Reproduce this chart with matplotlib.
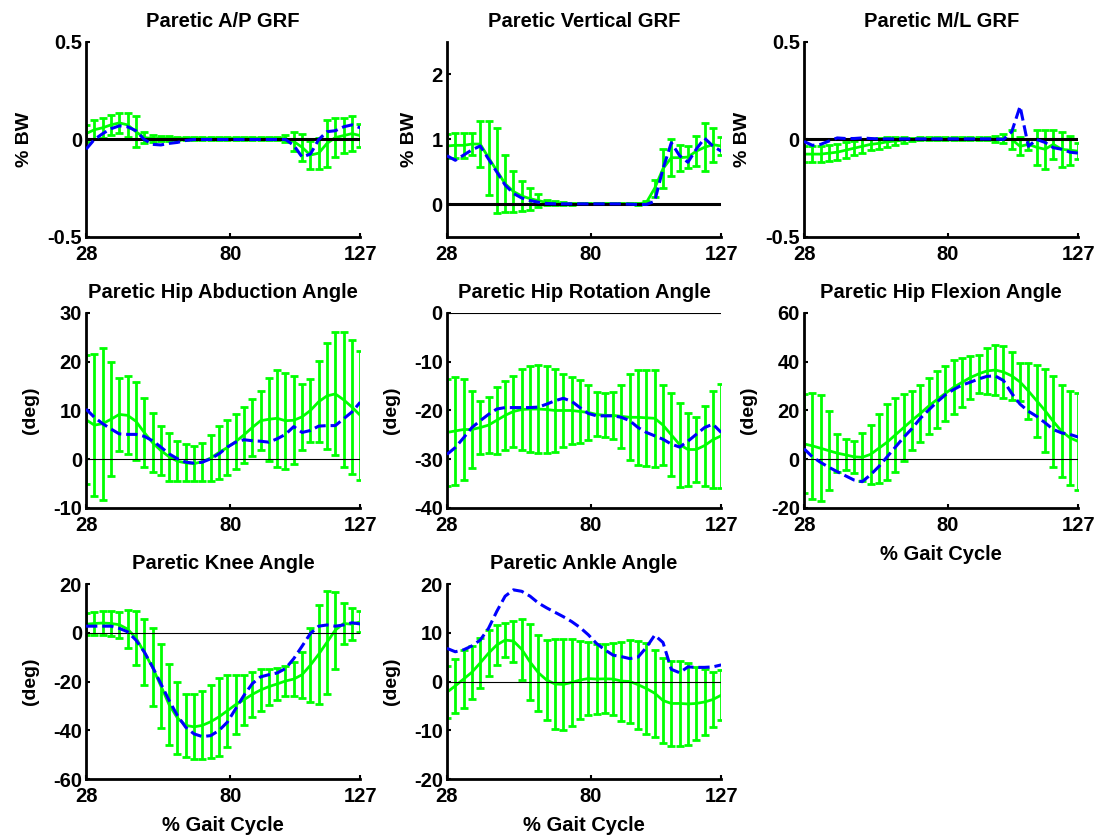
import numpy as np
import matplotlib
matplotlib.use('Agg')
import matplotlib.pyplot as plt

# % gait cycle sample points (every 3 %)
gait = np.arange(28, 128, 3)

# Paretic A/P GRF
ap_mean = [0.03, 0.05, 0.06, 0.075, 0.085, 0.075, 0.04, 0.01,
           0.005, 0.005, 0.005, 0.005, 0.005, 0.005, 0.005, 0.005, 0.005, 0.005, 0.005,
           0.005, 0.005, 0.005, 0.005, 0.005, 0.005,
           -0.01, -0.04, -0.08, -0.07, -0.02, 0.01, 0.02, 0.03, 0.02]
ap_sd = [0.045, 0.05, 0.05, 0.05, 0.05, 0.06, 0.08, 0.03, 0.02, 0.015, 0.012, 0.01,
         0.006, 0.006, 0.006, 0.006, 0.006, 0.006, 0.006, 0.006, 0.006, 0.006, 0.006,
         0.008, 0.02, 0.05, 0.07, 0.07, 0.08, 0.12, 0.1, 0.09, 0.09, 0.06]
ap_blue = [-0.05, 0.0, 0.03, 0.055, 0.07, 0.065, 0.045, 0.0, -0.025, -0.028, -0.02, -0.015, -0.005, 0.0,
           0.0, 0.0, 0.0, 0.0, 0.0, 0.0, 0.0, 0.0, 0.0, 0.0, 0.0,
           -0.03, -0.09, -0.075, 0.0, 0.04, 0.045, 0.065, 0.075, 0.06]

# Paretic vertical GRF
vt_mean = [0.9, 0.91, 0.91, 0.93, 0.93, 0.72, 0.52, 0.32, 0.2, 0.13, 0.09, 0.06, 0.03,
           0.02, 0.015, 0.01, 0.01, 0.01, 0.01, 0.01, 0.01, 0.01, 0.01, 0.01,
           0.03, 0.25, 0.55, 0.72, 0.72, 0.73, 0.82, 0.88, 0.92, 0.9]
vt_sd = [0.19, 0.19, 0.19, 0.17, 0.35, 0.57, 0.65, 0.44, 0.32, 0.23, 0.17, 0.1, 0.04,
         0.03, 0.02, 0.015, 0.01, 0.01, 0.01, 0.01, 0.01, 0.01, 0.01, 0.015,
         0.03, 0.13, 0.3, 0.28, 0.2, 0.17, 0.23, 0.37, 0.26, 0.14]
vt_blue = [0.75, 0.68, 0.76, 0.84, 0.9, 0.7, 0.5, 0.3, 0.17, 0.1, 0.06, 0.035, 0.015,
           0.01, 0.01, 0.01, 0.01, 0.01, 0.01, 0.01, 0.01, 0.01, 0.005, 0.0, 0.0,
           0.05, 0.55, 0.95, 0.75, 0.65, 0.85, 1.02, 0.9, 0.82]

# Paretic M/L GRF
ml_mean = [-0.075, -0.075, -0.075, -0.07, -0.065, -0.055, -0.045, -0.035, -0.025, -0.02, -0.012, -0.008, -0.003,
           0.002, 0.003, 0.003, 0.003, 0.003, 0.003, 0.003, 0.003, 0.003, 0.003, 0.003,
           0.005, 0.0, -0.035, -0.025, -0.04, -0.05, -0.025, -0.05, -0.055, -0.06]
ml_sd = [0.04, 0.04, 0.04, 0.04, 0.04, 0.04, 0.035, 0.035, 0.03, 0.03, 0.025, 0.02, 0.015,
         0.008, 0.008, 0.008, 0.008, 0.008, 0.008, 0.008, 0.008, 0.008, 0.008, 0.015,
         0.025, 0.047, 0.047, 0.03, 0.09, 0.1, 0.073, 0.09, 0.075, 0.04]
ml_blue = [-0.01, -0.03, -0.025, -0.008, 0.008, 0.005, 0.005, 0.008, 0.005,
           0.003, 0.003, 0.003, 0.003, 0.003, 0.003, 0.003, 0.003, 0.003, 0.003, 0.003, 0.003, 0.003, 0.003, 0.003,
           0.0, 0.04, 0.17, -0.035, 0.0, -0.015, -0.042, -0.05, -0.065, -0.07]

# Paretic hip abduction angle
ab_mean = [8.1, 7.0, 7.3, 8.2, 9.2, 9.0, 7.8, 5.5, 3.4, 1.8, 0.5, -0.4, -0.75, -0.9, -0.5, 0.25, 1.4,
           2.4, 3.6, 5.0, 6.5, 7.9, 8.2, 8.4, 7.9, 8.0, 8.7, 10.0, 11.8, 13.0, 13.4, 12.2, 10.7, 9.0]
ab_sd = [13.2, 14.6, 15.6, 11.7, 7.5, 8.0, 8.0, 7.0, 6.1, 5.1, 4.9, 4.1, 3.8, 3.6, 3.9, 4.8, 5.4,
         5.7, 5.7, 5.7, 5.9, 6.0, 8.5, 10.0, 9.8, 9.0, 6.8, 6.5, 8.3, 10.9, 12.6, 13.8, 13.7, 13.3]
ab_blue = [10.3, 8.6, 7.3, 6.2, 5.2, 5.1, 5.1, 4.7, 3.8, 2.5, 1.1, 0.1, -0.6, -0.8, -0.6, 0.1, 1.1,
           2.5, 3.5, 4.0, 3.8, 3.7, 3.5, 4.2, 5.1, 6.7, 5.5, 5.9, 6.8, 6.9, 6.9, 8.3, 9.7, 11.7]

# Paretic hip rotation angle
rot_mean = [-24.5, -24.2, -23.9, -23.9, -23.5, -23.0, -22.0, -21.0, -20.2, -19.8, -19.7, -19.7, -19.8,
            -20.0, -20.0, -20.0, -20.2, -20.4, -20.8, -21.0, -21.0, -21.2, -21.4, -21.4, -21.5,
            -21.6, -23.0, -25.0, -27.0, -28.0, -28.0, -27.2, -26.0, -25.2]
rot_sd = [11, 11, 10.3, 7.8, 5.5, 5.8, 6.9, 7.1, 7.3, 8.3, 8.8, 9.0, 9.0, 8.6, 7.5, 6.9, 6.5,
          5.7, 4.5, 4.5, 4.8, 6.4, 8.8, 9.8, 9.9, 9.9, 8.2, 8.5, 8.6, 7.5, 6.6, 8.2, 10, 10.6]
rot_blue = [-29.0, -27.6, -25.6, -23.5, -22.1, -20.8, -19.7, -19.4, -19.4, -19.4, -19.4, -19.3, -18.7,
            -18.0, -17.5, -18.1, -19.4, -20.6, -21.1, -21.1, -21.1, -21.4, -22.1, -23.5, -24.5,
            -25.2, -25.9, -26.9, -27.5, -26.3, -24.9, -23.5, -22.8, -24.5]

# Paretic hip flexion angle
fl_mean = [6.3, 5.5, 4.5, 3.5, 2.5, 1.8, 1.0, 0.8, 2.0, 4.5, 7.0, 10.0, 13.0, 16.0, 18.8, 21.8, 24.5,
           27.0, 29.5, 31.5, 33.5, 35.0, 36.2, 36.6, 35.8, 34.2, 31.7, 28.0, 24.0, 20.0, 15.5, 11.5, 8.8, 7.3]
fl_sd = [20.3, 21.8, 21.8, 16.2, 7.8, 6.4, 6.6, 9.8, 12.2, 14.2, 15.5, 15.3, 13.9, 12.2, 11.7, 11.6, 11.7,
         11.4, 11.1, 10.0, 8.9, 7.9, 9.4, 10.4, 10.6, 9.8, 7.6, 11.6, 14.8, 17.0, 18.7, 18.9, 19.3, 19.8]
fl_blue = [4.3, 1.0, -1.3, -3.3, -5.1, -6.8, -8.5, -9.2, -6.4, -3.0, 1.0, 5.0, 9.0, 12.6, 16.8, 20.2, 23.5,
           26.4, 28.6, 30.4, 31.6, 32.9, 34.0, 34.2, 32.3, 27.0, 22.6, 19.7, 17.6, 15.0, 12.2, 10.8, 10.2, 9.1]

# Paretic knee angle
kn_mean = [3.5, 3.8, 4.0, 3.8, 3.3, 1.5, -2.1, -8.0, -14.2, -21.8, -29.5, -35.0, -38.0, -38.6, -38.0, -36.5,
           -34.5, -32.0, -29.5, -27.5, -25.3, -23.5, -22.1, -21.0, -19.8, -19.0, -17.2, -13.3, -8.8, -3.9,
           1.1, 3.8, 3.5, 4.5]
kn_sd = [4.6, 4.8, 5.0, 5.0, 5.4, 7.7, 11.0, 13.6, 16.0, 17.2, 16.6, 14.8, 13.0, 13.3, 13.9, 14.9, 16.0,
         14.8, 12.0, 10.3, 9.2, 8.5, 7.4, 6.7, 6.0, 7.0, 9.4, 15.1, 20.3, 21.1, 15.8, 8.6, 6.5, 4.3]
kn_blue = [2.7, 2.7, 2.7, 2.7, 1.8, 0.4, -3.0, -7.8, -14.0, -20.9, -27.8, -34.0, -38.8, -41.5, -42.6, -42.2,
           -40.1, -36.7, -31.2, -25.7, -20.9, -18.1, -17.2, -16.5, -14.7, -10.6, -5.5, -0.3, 2.7, 3.2,
           2.7, 3.2, 4.1, 3.6]

# Paretic ankle angle
an_mean = [-2.2, -0.9, 0.5, 1.9, 3.8, 5.8, 7.5, 8.5, 8.3, 6.6, 4.0, 1.8, 0.3, -0.5, -0.6, -0.2, 0.3,
           0.6, 0.5, 0.55, 0.5, 0.1, 0.0, -0.65, -1.45, -2.4, -3.9, -4.5, -4.5, -4.6, -4.5, -4.2, -3.7, -2.8]
an_sd = [5.3, 5.5, 5.9, 5.4, 5.2, 4.7, 4.1, 3.4, 4.2, 6.3, 7.7, 7.8, 8.2, 9.2, 9.4, 8.9, 8.0,
         7.5, 7.2, 7.1, 7.3, 8.1, 8.5, 9.0, 9.3, 8.9, 8.7, 8.8, 8.8, 8.4, 7.4, 6.7, 5.7, 5.1]
an_blue = [6.8, 6.1, 6.5, 7.3, 8.5, 10.9, 14.4, 17.5, 18.8, 18.5, 17.5, 16.1, 15.1, 14.2, 13.3, 12.3, 11.1,
           9.6, 7.8, 6.5, 5.4, 5.1, 4.7, 5.0, 7.0, 9.5, 8.0, 2.5, 1.8, 3.0, 2.9, 2.9, 3.0, 3.4]

grf_ticks = [-0.5, 0, 0.5]
grf_labels = ['-0.5', '0', '0.5']

plt.rcParams['font.family'] = ['Liberation Sans', 'DejaVu Sans']
plt.rcParams['font.weight'] = 'bold'
plt.rcParams['axes.unicode_minus'] = False

fig = plt.figure(figsize=(10.99, 8.38), dpi=100)

lefts = [0.0783, 0.4067, 0.7316]
bottoms = [0.7172, 0.3938, 0.0704]
w, h = 0.2495, 0.2327


def panel(row, col, title, mean, sd, blue, ylim, yticks, ylabel, zero_lw, xlabel=False, ylabels=None):
    ax = fig.add_axes([lefts[col], bottoms[row], w, h])
    ax.errorbar(gait, mean, yerr=sd, color='#00ff00', lw=2, elinewidth=2,
                capsize=3, capthick=2, zorder=2)
    ax.axhline(0, color='black', lw=zero_lw, zorder=3)
    ax.plot(gait, blue, '--', color='#0000ff', lw=2.2, zorder=4)
    ax.set_xlim(28, 127)
    ax.set_ylim(*ylim)
    ax.set_xticks([28, 80, 127])
    ax.set_yticks(yticks)
    if ylabels is not None:
        ax.set_yticklabels(ylabels)
    ax.spines['top'].set_visible(False)
    ax.spines['right'].set_visible(False)
    ax.spines['left'].set_linewidth(2)
    ax.spines['bottom'].set_linewidth(2)
    ax.tick_params(direction='in', length=3, width=1.5, labelsize=14.5)
    ax.tick_params(axis='x', pad=6)
    ax.tick_params(axis='y', pad=3)
    ax.set_title(title, fontsize=14.5, fontweight='bold', pad=11)
    ax.set_ylabel(ylabel, fontsize=14, fontweight='bold', labelpad=10)
    if xlabel:
        ax.set_xlabel('% Gait Cycle', fontsize=14.5, fontweight='bold', labelpad=7)
    return ax


panel(0, 0, 'Paretic A/P GRF', ap_mean, ap_sd, ap_blue, (-0.5, 0.5), grf_ticks, '% BW', 2.2, ylabels=grf_labels)
panel(0, 1, 'Paretic Vertical GRF', vt_mean, vt_sd, vt_blue, (-0.5, 2.5), [0, 1, 2], '% BW', 2.2)
panel(0, 2, 'Paretic M/L GRF', ml_mean, ml_sd, ml_blue, (-0.5, 0.5), grf_ticks, '% BW', 2.2, ylabels=grf_labels)
panel(1, 0, 'Paretic Hip Abduction Angle', ab_mean, ab_sd, ab_blue, (-10, 30), [-10, 0, 10, 20, 30], '(deg)', 0.8)
panel(1, 1, 'Paretic Hip Rotation Angle', rot_mean, rot_sd, rot_blue, (-40, 0), [-40, -30, -20, -10, 0], '(deg)', 0.8)
panel(1, 2, 'Paretic Hip Flexion Angle', fl_mean, fl_sd, fl_blue, (-20, 60), [-20, 0, 20, 40, 60], '(deg)', 0.8, xlabel=True)
panel(2, 0, 'Paretic Knee Angle', kn_mean, kn_sd, kn_blue, (-60, 20), [-60, -40, -20, 0, 20], '(deg)', 0.8, xlabel=True)
panel(2, 1, 'Paretic Ankle Angle', an_mean, an_sd, an_blue, (-20, 20), [-20, -10, 0, 10, 20], '(deg)', 0.8, xlabel=True)

fig.savefig('out.png', dpi=100)
